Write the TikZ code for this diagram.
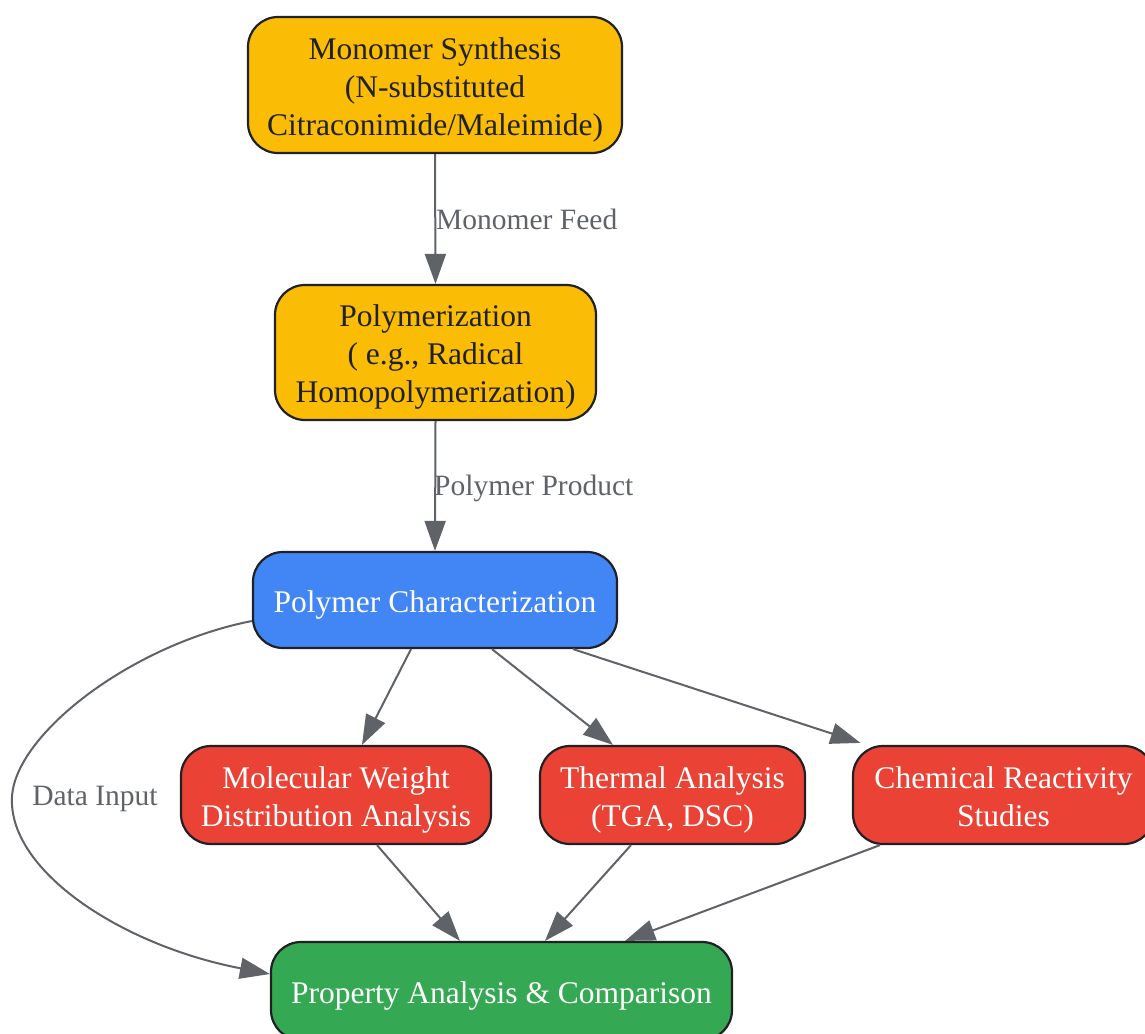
\documentclass[tikz,border=0pt]{standalone}
\usepackage{fontspec}
\setmainfont{Liberation Serif}
\usetikzlibrary{arrows.meta}
\definecolor{cyellow}{HTML}{FBBC05}
\definecolor{cblue}{HTML}{4285F4}
\definecolor{cred}{HTML}{EA4335}
\definecolor{cgreen}{HTML}{34A853}
\definecolor{cedge}{HTML}{5F6368}
\definecolor{cborder}{HTML}{202124}
\definecolor{ctext}{HTML}{202124}
\newcommand\firstup{\rule{0pt}{31pt}}
\newcommand\lastdown{\rule[-6.5pt]{0pt}{6.5pt}}
\tikzset{
  box/.style={draw=cborder, line width=2.2pt, rounded corners=30pt, align=center,
    font=\fontsize{31.5}{38}\selectfont, inner sep=0pt},
  ybox/.style={box, fill=cyellow, text=ctext},
  bbox/.style={box, fill=cblue, text=white},
  rbox/.style={box, fill=cred, text=white},
  gbox/.style={box, fill=cgreen, text=white},
  conn/.style={draw=cedge, line width=2pt, -{Triangle[length=30pt,width=21pt]}},
  elabel/.style={text=cedge, font=\fontsize{29.5}{34}\selectfont, inner sep=0pt}
}
\begin{document}
\begin{tikzpicture}[x=1pt,y=-1pt]
\useasboundingbox (0,0) rectangle (1145,1033);
\fill[white] (0,0) rectangle (1145,1033);

\node[ybox, minimum width=374pt, minimum height=136pt] (mono) at (435,85)
  {\firstup Monomer Synthesis\\(N-substituted\\Citraconimide/Maleimide)};
\node[ybox, minimum width=321pt, minimum height=135pt] (poly) at (435.5,352.5)
  {\firstup Polymerization\\( e.g., Radical\\Homopolymerization)};
\node[bbox, minimum width=364pt, minimum height=96pt] (char) at (435,600)
  {\firstup Polymer Characterization};
\node[rbox, minimum width=310pt, minimum height=98pt] (mw) at (336,795)
  {\firstup Molecular Weight\\Distribution Analysis};
\node[rbox, minimum width=265pt, minimum height=98pt] (therm) at (672.5,795)
  {\firstup Thermal Analysis\\(TGA, DSC)};
\node[rbox, minimum width=301pt, minimum height=98pt] (chem) at (1003.5,795)
  {\firstup Chemical Reactivity\\Studies\lastdown};
\node[gbox, minimum width=461pt, minimum height=98pt] (prop) at (501.5,991)
  {\firstup Property Analysis \& Comparison};

\draw[conn] (mono.south) -- (poly.north);
\node[elabel, anchor=west] (lfeed) at (436,219) {Monomer Feed};
\draw[conn] (poly.south) -- (char.north);
\node[elabel, anchor=west] (lprod) at (434,488) {Polymer Product};

\draw[conn] ([xshift=-24pt]char.south) -- ([xshift=26pt]mw.north);
\draw[conn] ([xshift=57pt]char.south) -- ([xshift=-59.5pt]therm.north);
\draw[conn] ([xshift=138pt]char.south) -- ([xshift=-143pt,yshift=2pt]chem.north);

\draw[conn] ([xshift=41pt]mw.south) -- ([xshift=-41.5pt]prop.north);
\draw[conn] ([xshift=-41.5pt]therm.south) -- ([xshift=43.5pt]prop.north);
\draw[conn] ([xshift=-123.5pt]chem.south) -- ([xshift=123.5pt]prop.north);

\coordinate (dmid) at (12,797);
\draw[conn] ([yshift=-21pt]char.west) .. controls (130,645) and (15,735) .. (dmid)
  .. controls (8,870) and (120,945) .. ([yshift=17pt]prop.west);
\node[elabel] (ldata) at (95,799) {Data Input};
\end{tikzpicture}
\end{document}
